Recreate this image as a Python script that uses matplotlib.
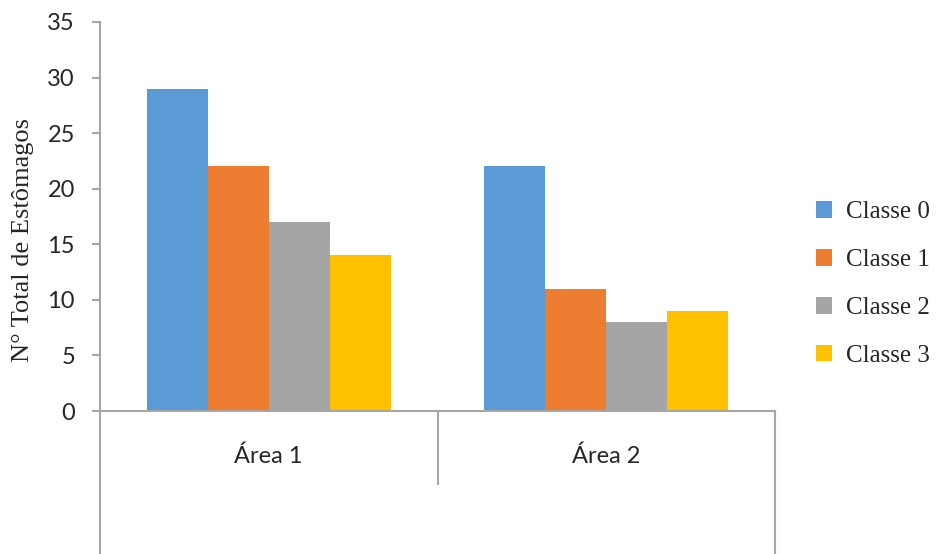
import matplotlib.pyplot as plt
from matplotlib.patches import Patch
import numpy as np

# stomach counts per class, for each sampling area
areas = ['Área 1', 'Área 2']
classes = ['Classe 0', 'Classe 1', 'Classe 2', 'Classe 3']
classe_0 = [29, 22]
classe_1 = [22, 11]
classe_2 = [17, 8]
classe_3 = [14, 9]
colors = ['#5B9BD5', '#ED7D31', '#A5A5A5', '#FFC000']

W, H = 936, 554
fig = plt.figure(figsize=(W / 100, H / 100), dpi=100)
ax = fig.add_axes([100 / W, 1 - 411 / H, 675 / W, 389 / H])

grey = '#A6A6A6'
bar_w = 0.181
x = np.arange(len(areas)) + 0.5
series = [classe_0, classe_1, classe_2, classe_3]
for j, vals in enumerate(series):
    ax.bar(x + (j - 1.5) * bar_w, vals, width=bar_w, color=colors[j],
           label=classes[j], zorder=2)

ax.set_xlim(0, 2)
ax.set_ylim(0, 35)
ax.set_yticks(np.arange(0, 36, 5))

for s in ['top', 'right', 'left']:
    ax.spines[s].set_visible(False)
ax.spines['bottom'].set_color(grey)
ax.spines['bottom'].set_linewidth(1.5)

# category frame lines hanging below the axis
ext = -143 / 389
kw = dict(transform=ax.transAxes, clip_on=False, color=grey, lw=1.5)
ax.plot([0, 0], [1, ext], **kw)
ax.plot([0.5, 0.5], [0, -73 / 389], **kw)
ax.plot([1, 1], [0, ext], **kw)

ax.tick_params(axis='y', length=6, width=1.5, color=grey, pad=12,
               labelsize=17, labelcolor='#262626')
ax.set_yticklabels([str(v) for v in range(0, 36, 5)], family='Lato')
ax.set_xticks(x)
ax.set_xticklabels(areas, family='Lato', fontsize=17, color='#262626')
ax.tick_params(axis='x', length=0, pad=25)

fig.text(23 / W, 1 - 240 / H, 'N° Total de Estômagos', rotation=90,
         ha='center', va='center', family='Liberation Serif', fontsize=19,
         color='#262626')

handles = [Patch(facecolor=c, edgecolor='none') for c in colors]
fig.legend(handles, classes, loc='center left',
           bbox_to_anchor=(793 / W, 1 - 284 / H), frameon=False,
           prop={'family': 'Liberation Serif', 'size': 18},
           handlelength=0.65, handleheight=0.65, handletextpad=0.55,
           labelspacing=1.03, labelcolor='#262626')

fig.savefig('out.png', dpi=100)
